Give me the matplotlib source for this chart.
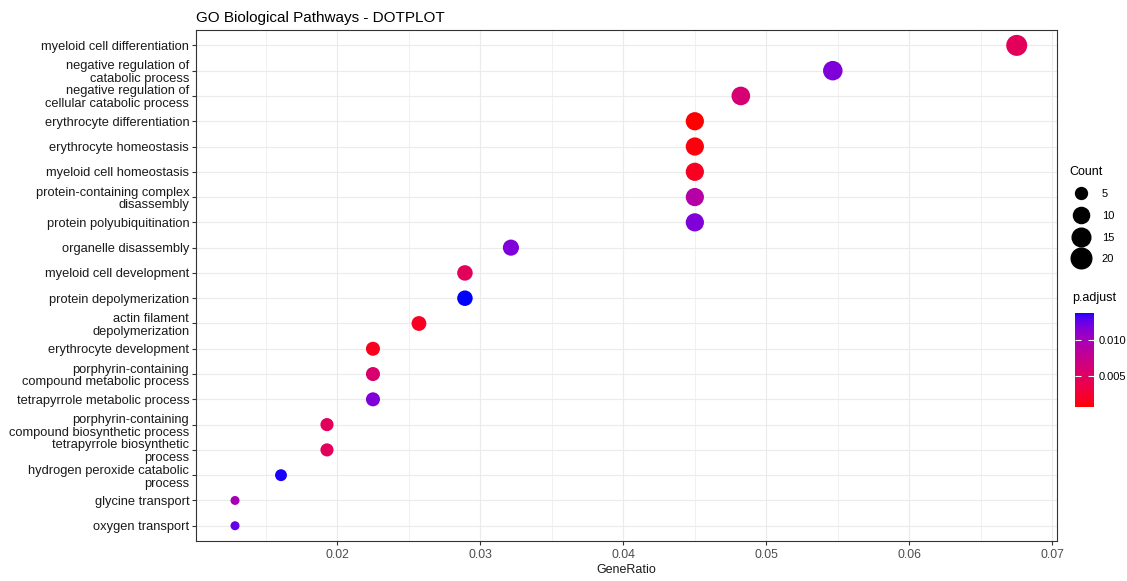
import matplotlib
matplotlib.use("Agg")
import matplotlib.pyplot as plt
import numpy as np
from matplotlib.colors import ListedColormap, Normalize
from matplotlib.lines import Line2D

# GO enrichment results (top to bottom)
terms = [
    "myeloid cell differentiation",
    "negative regulation of\ncatabolic process",
    "negative regulation of\ncellular catabolic process",
    "erythrocyte differentiation",
    "erythrocyte homeostasis",
    "myeloid cell homeostasis",
    "protein-containing complex\ndisassembly",
    "protein polyubiquitination",
    "organelle disassembly",
    "myeloid cell development",
    "protein depolymerization",
    "actin filament\ndepolymerization",
    "erythrocyte development",
    "porphyrin-containing\ncompound metabolic process",
    "tetrapyrrole metabolic process",
    "porphyrin-containing\ncompound biosynthetic process",
    "tetrapyrrole biosynthetic\nprocess",
    "hydrogen peroxide catabolic\nprocess",
    "glycine transport",
    "oxygen transport",
]
counts = [21, 17, 15, 14, 14, 14, 14, 14, 10, 9, 9, 8, 7, 7, 7, 6, 6, 5, 4, 4]
gene_ratio = [c / 311 for c in counts]
p_adjust = [0.0046, 0.0117, 0.0059, 0.0007, 0.0010, 0.0017, 0.0089, 0.0117,
            0.0117, 0.0046, 0.01375, 0.0017, 0.0015, 0.0057, 0.0117, 0.0046,
            0.0046, 0.0136, 0.0098, 0.0125]
size_breaks = [5, 10, 15, 20]
p_ticks = [0.005, 0.010]


# red -> blue gradient interpolated in CIE Lab
def _to_lab(rgb):
    rgb = np.asarray(rgb, float)
    lin = np.where(rgb <= 0.04045, rgb / 12.92, ((rgb + 0.055) / 1.055) ** 2.4)
    m = np.array([[0.4124, 0.3576, 0.1805],
                  [0.2126, 0.7152, 0.0722],
                  [0.0193, 0.1192, 0.9505]])
    xyz = m @ lin / np.array([0.95047, 1.0, 1.08883])
    f = np.where(xyz > 0.008856, np.cbrt(xyz), 7.787 * xyz + 16 / 116)
    return np.array([116 * f[1] - 16, 500 * (f[0] - f[1]), 200 * (f[1] - f[2])])


def _from_lab(lab):
    L, a, b = lab
    fy = (L + 16) / 116
    fx = fy + a / 500
    fz = fy - b / 200
    f = np.array([fx, fy, fz])
    xyz = np.where(f ** 3 > 0.008856, f ** 3, (f - 16 / 116) / 7.787)
    xyz = xyz * np.array([0.95047, 1.0, 1.08883])
    m = np.array([[3.2406, -1.5372, -0.4986],
                  [-0.9689, 1.8758, 0.0415],
                  [0.0557, -0.2040, 1.0570]])
    lin = np.clip(m @ xyz, 0, 1)
    rgb = np.where(lin <= 0.0031308, 12.92 * lin, 1.055 * lin ** (1 / 2.4) - 0.055)
    return np.clip(rgb, 0, 1)


lab_r, lab_b = _to_lab([1, 0, 0]), _to_lab([0, 0, 1])
cmap = ListedColormap([_from_lab(lab_r + t * (lab_b - lab_r)) for t in np.linspace(0, 1, 256)])
norm = Normalize(min(p_adjust), max(p_adjust))

# dot diameter in px, area scaled like ggplot's scale_size
cmin, cmax = min(counts), max(counts)


def dot_s(c, lo=9.0, hi=21.0):
    d = lo + (hi - lo) * np.sqrt((np.asarray(c, float) - cmin) / (cmax - cmin))
    return (d * 0.72) ** 2


plt.rcParams["font.family"] = ["Liberation Sans", "DejaVu Sans"]

fig = plt.figure(figsize=(11.27, 5.81), dpi=100)
ax = fig.add_axes([0.174, 0.069, 0.764, 0.879])

ypos = np.arange(len(terms))[::-1]
ax.scatter(gene_ratio, ypos, s=dot_s(counts), c=p_adjust, cmap=cmap, norm=norm,
           edgecolors="none", zorder=3)

ax.set_ylim(-0.6, len(terms) - 0.4)
ax.set_xlim(0.01014, 0.07035)
ax.set_yticks(ypos)
ax.set_yticklabels(terms, fontsize=9.3, color="#1a1a1a", linespacing=1.1)
ax.set_xticks([0.02, 0.03, 0.04, 0.05, 0.06, 0.07])
ax.set_xticklabels(["0.02", "0.03", "0.04", "0.05", "0.06", "0.07"])
ax.set_xticks([0.015, 0.025, 0.035, 0.045, 0.055, 0.065], minor=True)
ax.tick_params(axis="x", which="major", labelsize=8.8, labelcolor="#4d4d4d",
               length=3, color="#333333", pad=3)
ax.tick_params(axis="x", which="minor", length=0)
ax.tick_params(axis="y", length=3, color="#333333", pad=2)
ax.grid(which="major", color="#ebebeb", lw=0.8, zorder=0)
ax.grid(axis="x", which="minor", color="#ebebeb", lw=0.5, zorder=0)
ax.set_axisbelow(True)
for sp in ax.spines.values():
    sp.set_color("#333333")
    sp.set_linewidth(0.8)
ax.set_xlabel("GeneRatio", fontsize=9, color="#1a1a1a", labelpad=2)
ax.set_title("GO Biological Pathways - DOTPLOT", fontsize=11, loc="left", pad=6)

# size legend
handles = [Line2D([], [], ls="", marker="o", color="black",
                  markersize=np.sqrt(dot_s(b))) for b in size_breaks]
leg = fig.legend(handles, [str(b) for b in size_breaks], title="Count",
                 loc="upper left", bbox_to_anchor=(0.949, 0.715), frameon=False,
                 fontsize=8, title_fontsize=9, labelspacing=1.05,
                 handletextpad=0.9, borderaxespad=0, borderpad=0)
leg._legend_box.align = "left"

# colour bar for p.adjust
cax = fig.add_axes([0.954, 0.30, 0.017, 0.162])
cb = fig.colorbar(plt.cm.ScalarMappable(norm=norm, cmap=cmap), cax=cax)
cb.set_ticks(p_ticks)
cb.set_ticklabels(["0.005", "0.010"])
cb.outline.set_visible(False)
cax.tick_params(length=4, color="white", direction="in", labelsize=8, pad=3,
                left=True, right=True)
fig.text(0.951, 0.477, "p.adjust", fontsize=9, ha="left", va="bottom")

fig.savefig("out.png", dpi=100)
